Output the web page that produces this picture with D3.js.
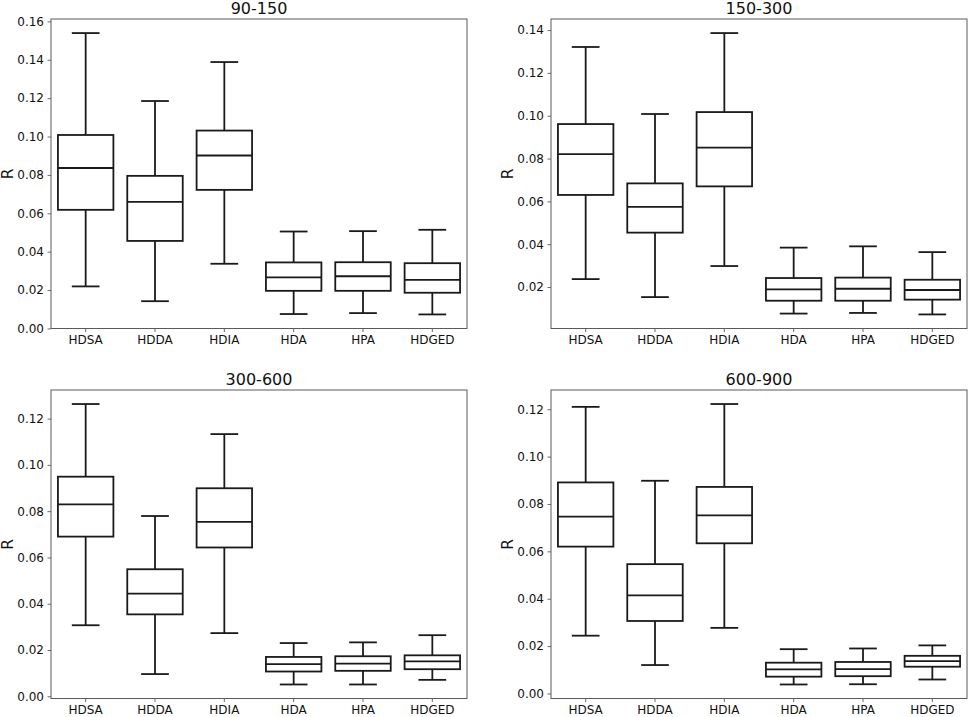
<!DOCTYPE html>
<html>
<head>
<meta charset="utf-8">
<script src="https://cdn.jsdelivr.net/npm/d3@7"></script>
<style>
  body { margin: 0; background: #fff; }
  svg { display: block; font-family: "DejaVu Sans", sans-serif; }
</style>
</head>
<body>
<svg id="chart" width="969" height="717"></svg>
<script>
// ---- data ----
const categories = ["HDSA", "HDDA", "HDIA", "HDA", "HPA", "HDGED"];
const panelTitles = ["90-150", "150-300", "300-600", "600-900"];

// each: [lowWhisker, Q1, median, Q3, highWhisker] per category
const stats90_150 = [
  [0.0219, 0.0618, 0.0836, 0.1008, 0.1539],
  [0.0142, 0.0456, 0.0659, 0.0795, 0.1185],
  [0.0337, 0.0722, 0.0901, 0.1031, 0.1388],
  [0.0075, 0.0196, 0.0266, 0.0344, 0.0505],
  [0.0080, 0.0196, 0.0272, 0.0345, 0.0507],
  [0.0073, 0.0186, 0.0253, 0.0340, 0.0514]
];
const stats150_300 = [
  [0.0237, 0.0630, 0.0821, 0.0961, 0.1321],
  [0.0153, 0.0454, 0.0574, 0.0684, 0.1008],
  [0.0298, 0.0670, 0.0851, 0.1017, 0.1386],
  [0.0076, 0.0136, 0.0189, 0.0242, 0.0384],
  [0.0079, 0.0136, 0.0192, 0.0244, 0.0390],
  [0.0072, 0.0141, 0.0186, 0.0234, 0.0363]
];
const stats300_600 = [
  [0.0307, 0.0690, 0.0829, 0.0949, 0.1263],
  [0.0096, 0.0354, 0.0444, 0.0549, 0.0779],
  [0.0273, 0.0643, 0.0754, 0.0899, 0.1133],
  [0.0051, 0.0107, 0.0139, 0.0170, 0.0230],
  [0.0051, 0.0110, 0.0141, 0.0173, 0.0233],
  [0.0071, 0.0117, 0.0151, 0.0177, 0.0264]
];
const stats600_900 = [
  [0.0244, 0.0620, 0.0747, 0.0891, 0.1210],
  [0.0120, 0.0306, 0.0414, 0.0546, 0.0898],
  [0.0277, 0.0634, 0.0752, 0.0872, 0.1222],
  [0.0038, 0.0071, 0.0102, 0.0130, 0.0187],
  [0.0039, 0.0073, 0.0103, 0.0133, 0.0190],
  [0.0059, 0.0113, 0.0137, 0.0159, 0.0203]
];

const yTicks90_150 = [0.00, 0.02, 0.04, 0.06, 0.08, 0.10, 0.12, 0.14, 0.16];
const yTicks150_300 = [0.02, 0.04, 0.06, 0.08, 0.10, 0.12, 0.14];
const yTicks300_600 = [0.00, 0.02, 0.04, 0.06, 0.08, 0.10, 0.12];
const yTicks600_900 = [0.00, 0.02, 0.04, 0.06, 0.08, 0.10, 0.12];

const yLabel = "R";

// ---- layout ----
const pw = 416;
const panels = [
  { title: panelTitles[0], stats: stats90_150, ticks: yTicks90_150, x0: 51, y0: 19, ph: 309.5 },
  { title: panelTitles[1], stats: stats150_300, ticks: yTicks150_300, x0: 551, y0: 19, ph: 309.5 },
  { title: panelTitles[2], stats: stats300_600, ticks: yTicks300_600, x0: 51, y0: 390, ph: 308.5 },
  { title: panelTitles[3], stats: stats600_900, ticks: yTicks600_900, x0: 551, y0: 390, ph: 308.5 }
];
const frameColor = "#5a5a5a";
const lineColor = "#1a1a1a";
const lw = 1.8;

const svg = d3.select("#chart");

panels.forEach(p => {
  const ph = p.ph;
  const g = svg.append("g").attr("transform", `translate(${p.x0},${p.y0})`);

  const lo = d3.min(p.stats, d => d[0]);
  const hi = d3.max(p.stats, d => d[4]);
  const m = (hi - lo) * 0.05;
  const y = d3.scaleLinear().domain([lo - m, hi + m]).range([ph, 0]);
  const x = d3.scaleBand().domain(categories).range([0, pw]).paddingInner(0).paddingOuter(0);
  const bw = x.bandwidth();

  // y axis
  const yAxis = d3.axisLeft(y).tickValues(p.ticks).tickFormat(d3.format(".2f")).tickSize(3.5).tickPadding(3.5);
  const ya = g.append("g").call(yAxis);
  ya.select(".domain").remove();
  ya.selectAll(".tick line").attr("stroke", frameColor).attr("stroke-width", 0.9);
  ya.selectAll(".tick text").attr("font-size", 12).attr("fill", "#111")
    .attr("font-family", "DejaVu Sans, sans-serif");

  // x axis
  const xAxis = d3.axisBottom(x).tickSize(3.5).tickPadding(3);
  const xa = g.append("g").attr("transform", `translate(0,${ph})`).call(xAxis);
  xa.select(".domain").remove();
  xa.selectAll(".tick line").attr("stroke", frameColor).attr("stroke-width", 0.9);
  xa.selectAll(".tick text").attr("font-size", 12).attr("fill", "#111")
    .attr("font-family", "DejaVu Sans, sans-serif");

  // boxes
  const boxes = g.append("g").selectAll("g.box").data(p.stats.map((s, i) => ({ cat: categories[i], s })))
    .enter().append("g").attr("class", "box");

  boxes.each(function(d) {
    const b = d3.select(this);
    const cx = x(d.cat) + bw / 2;
    const boxW = bw * 0.8;
    const capW = boxW / 2;
    const [wlo, q1, med, q3, whi] = d.s;
    // whiskers
    b.append("line").attr("x1", cx).attr("x2", cx).attr("y1", y(q3)).attr("y2", y(whi))
      .attr("stroke", lineColor).attr("stroke-width", lw);
    b.append("line").attr("x1", cx).attr("x2", cx).attr("y1", y(q1)).attr("y2", y(wlo))
      .attr("stroke", lineColor).attr("stroke-width", lw);
    // caps
    b.append("line").attr("x1", cx - capW / 2).attr("x2", cx + capW / 2).attr("y1", y(whi)).attr("y2", y(whi))
      .attr("stroke", lineColor).attr("stroke-width", lw);
    b.append("line").attr("x1", cx - capW / 2).attr("x2", cx + capW / 2).attr("y1", y(wlo)).attr("y2", y(wlo))
      .attr("stroke", lineColor).attr("stroke-width", lw);
    // box
    b.append("rect").attr("x", cx - boxW / 2).attr("width", boxW)
      .attr("y", y(q3)).attr("height", y(q1) - y(q3))
      .attr("fill", "#fff").attr("stroke", lineColor).attr("stroke-width", lw);
    // median
    b.append("line").attr("x1", cx - boxW / 2).attr("x2", cx + boxW / 2).attr("y1", y(med)).attr("y2", y(med))
      .attr("stroke", lineColor).attr("stroke-width", lw);
  });

  // frame
  g.append("rect").attr("x", 0).attr("y", 0).attr("width", pw).attr("height", ph)
    .attr("fill", "none").attr("stroke", frameColor).attr("stroke-width", 1);

  // title
  g.append("text").attr("x", pw / 2).attr("y", -5).attr("text-anchor", "middle")
    .attr("font-size", 16).attr("fill", "#111").text(p.title);

  // y label
  g.append("text").attr("transform", `translate(${-38},${ph / 2}) rotate(-90)`)
    .attr("text-anchor", "middle").attr("font-size", 15.5).attr("fill", "#111").text(yLabel);
});
</script>
</body>
</html>
